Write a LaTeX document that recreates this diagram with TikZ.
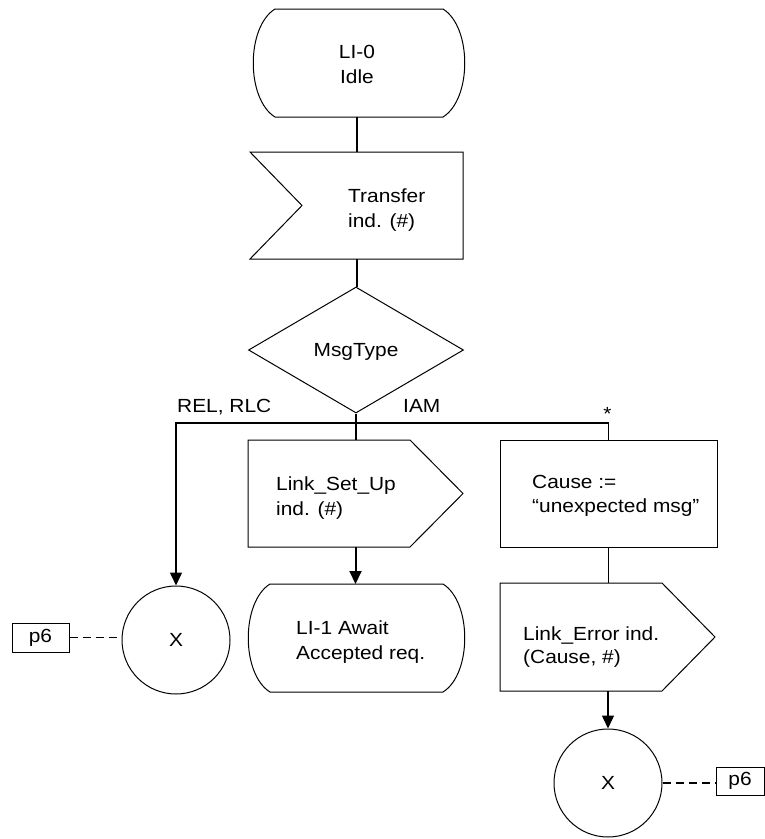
\documentclass[tikz,border=0pt]{standalone}
\usepackage{fontspec}
\setmainfont{Liberation Sans}[FakeStretch=1.1]
\usetikzlibrary{shapes.geometric,arrows.meta}
\begin{document}
\begin{tikzpicture}[x=1pt,y=-1pt,
  every node/.style={font=\fontsize{19}{25}\selectfont, inner sep=0pt},
  outline/.style={draw=black, line width=1pt},
  area/.style={inner sep=0pt, outer sep=0pt},
  txt/.style={anchor=base west},
  ctxt/.style={anchor=base},
  mainline/.style={line width=2pt},
  sideline/.style={line width=1.4pt},
  arrowend/.style={-{Triangle[length=13pt,width=12pt]}},
  dashline/.style={line width=1.6pt, dash pattern=on 8pt off 5pt},
  connector/.style={outline, circle, minimum size=108pt},
  pagebox/.style={outline, minimum width=57pt, minimum height=29pt}]
\useasboundingbox (0,0) rectangle (765,839);

% LI-0 state
\node[area, minimum width=216pt, minimum height=108pt] (s0) at (357,63) {};
\draw[outline] (275,9) -- (443,9) .. controls (472,27) and (472,99) .. (443,117) -- (275,117) .. controls (246,99) and (246,27) .. (275,9) -- cycle;
\node[ctxt] (t0a) at (357,58) {LI-0};
\node[ctxt] (t0b) at (357,83) {Idle};

% Transfer input
\node[area, minimum width=213pt, minimum height=107pt] (in1) at (356.5,205.5) {};
\draw[outline] (250,152) -- (463,152) -- (463,259) -- (250,259) -- (302,205.5) -- cycle;
\node[txt] (t1a) at (348,202) {Transfer};
\node[txt] (t1b) at (348,227) {ind. (\#)};

% decision
\node[outline, diamond, minimum width=215pt, minimum height=126pt] (dec) at (356,350) {};
\node[ctxt] (t2) at (356,356) {MsgType};

\node[txt] (lrel) at (177,412) {REL, RLC};
\node[txt] (liam) at (403,412) {IAM};
\node[ctxt] (lstar) at (607.5,420) {*};
\coordinate (br) at (356,423);

% Link_Set_Up output
\node[area, minimum width=215pt, minimum height=107pt] (out1) at (355.5,493.5) {};
\draw[outline] (248,440) -- (410,440) -- (463,493.5) -- (410,547) -- (248,547) -- cycle;
\node[txt] (t3a) at (276,490) {Link\_Set\_Up};
\node[txt] (t3b) at (276,515) {ind. (\#)};

% LI-1 state
\node[area, minimum width=216pt, minimum height=108pt] (s1) at (356,638) {};
\draw[outline] (270,584) -- (443,584) .. controls (472,602) and (472,674) .. (443,692) -- (270,692) .. controls (241,674) and (241,602) .. (270,584) -- cycle;
\node[txt] (t4a) at (296,634) {LI-1 Await};
\node[txt] (t4b) at (296,659) {Accepted req.};

% left connector
\node[connector] (cl) at (176,640) {X};
\node[pagebox] (pl) at (40.5,637.5) {p6};

% task
\node[outline, minimum width=217pt, minimum height=107pt] (task) at (608.5,493.5) {};
\node[txt] (t5a) at (532,488) {Cause :=};
\node[txt] (t5b) at (532,512) {“unexpected msg”};

% Link_Error output
\node[area, minimum width=215pt, minimum height=108pt] (out2) at (607.5,637) {};
\draw[outline] (500,583) -- (662,583) -- (715,637) -- (662,691) -- (500,691) -- cycle;
\node[txt] (t6a) at (523,640) {Link\_Error ind.};
\node[txt] (t6b) at (523,663) {(Cause, \#)};

% right connector
\node[connector] (cr) at (608,783) {X};
\node[pagebox, minimum width=48pt, minimum height=28pt] (pr) at (740,781) {p6};

% connectors
\draw[mainline] (s0.south) -- (s0.south |- in1.north);
\draw[mainline] (in1.south) -- (in1.south |- dec.north);
\draw[mainline] (dec.south) -- (dec.south |- out1.north);
\draw[sideline, arrowend] (task.north) |- (br) -| (cl.north);
\draw[mainline, arrowend] (out1.south) -- (out1.south |- s1.north);
\draw[sideline] (task.south) -- (task.south |- out2.north);
\draw[sideline, arrowend] (out2.south -| cr.north) -- (cr.north);
\draw[dashline] (pl.east) -- (pl.east -| cl.west);
\draw[dashline] (cr.east) -- (cr.east -| pr.west);
\end{tikzpicture}
\end{document}
